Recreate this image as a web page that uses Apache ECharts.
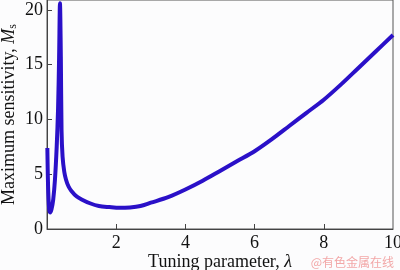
<!DOCTYPE html>
<html>
<head>
<meta charset="utf-8">
<script src="https://cdn.jsdelivr.net/npm/echarts@6/dist/echarts.min.js"></script>
<style>
html,body{margin:0;padding:0;background:#fcfcfd;}
#c{width:400px;height:270px;}
</style>
</head>
<body>
<div id="c"></div>
<script>
// Tuning parameter λ
var lambdaValues = [0.01, 0.03, 0.06, 0.09, 0.13, 0.18, 0.23, 0.28, 0.32, 0.35, 0.375, 0.40, 0.42, 0.45, 0.5, 0.55, 0.62, 0.7, 0.86, 1.0, 1.24, 1.5, 1.8, 2.1, 2.4, 2.7, 3.0, 3.5, 4.0, 4.5, 5.0, 5.5, 6.0, 6.5, 7.0, 7.5, 8.0, 8.5, 9.0, 9.5, 10.0];
// Maximum sensitivity Ms
var msValues = [7.4, 4.0, 1.9, 1.5, 1.8, 2.7, 4.5, 7.5, 11.0, 15.7, 20.6, 15.7, 9.0, 6.6, 5.2, 4.5, 3.9, 3.5, 2.96, 2.7, 2.35, 2.1, 2.0, 1.93, 1.97, 2.1, 2.4, 2.9, 3.6, 4.4, 5.3, 6.2, 7.1, 8.2, 9.4, 10.6, 11.8, 13.2, 14.7, 16.2, 17.7];
var xTickLabels = [2, 4, 6, 8, 10];
var yTickLabels = [0, 5, 10, 15, 20];

var seriesData = lambdaValues.map(function (x, i) { return [x, msValues[i]]; });

var chart = echarts.init(document.getElementById('c'));
var serif = '"Liberation Serif", "DejaVu Serif", serif';
chart.setOption({
  backgroundColor: '#fcfcfd',
  animation: false,
  grid: { left: 47, right: 7, top: 0, bottom: 41, containLabel: false, outerBoundsMode: 'none', show: true, borderColor: '#555', borderWidth: 1, backgroundColor: 'transparent' },
  xAxis: {
    type: 'value', min: 0, max: 10, interval: 2,
    axisLine: { show: true, lineStyle: { color: '#444', width: 1 } },
    axisTick: { show: true, inside: true, length: 5, lineStyle: { color: '#444' }, customValues: [2, 4, 6, 8] },
    axisLabel: { color: '#111', fontFamily: serif, fontSize: 18, margin: 5, customValues: xTickLabels },
    splitLine: { show: false },
    name: '{n|Tuning parameter, }{i|λ}',
    nameLocation: 'middle', nameGap: 24, nameMoveOverlap: false,
    nameTextStyle: { rich: { n: { fontFamily: serif, fontSize: 18, color: '#111' }, i: { fontFamily: serif, fontSize: 18, fontStyle: 'italic', color: '#111' } } }
  },
  yAxis: {
    type: 'value', min: 0, max: 20.9, interval: 5,
    axisLine: { show: true, lineStyle: { color: '#444', width: 1 } },
    axisTick: { show: true, inside: true, length: 5, lineStyle: { color: '#444' }, customValues: [5, 10, 15, 20] },
    axisLabel: { color: '#111', fontFamily: serif, fontSize: 18, margin: 4, customValues: yTickLabels },
    splitLine: { show: false },
    name: '{n|Maximum sensitivity, }{i|M}{s|s}',
    nameLocation: 'middle', nameGap: 28, nameRotate: 90, nameMoveOverlap: false,
    nameTextStyle: { rich: { n: { fontFamily: serif, fontSize: 18, color: '#111' }, i: { fontFamily: serif, fontSize: 18, fontStyle: 'italic', color: '#111' }, s: { fontFamily: serif, fontSize: 12, color: '#111', verticalAlign: 'bottom', padding: [7, 0, 0, 0] } } }
  },
  series: [{
    type: 'line', data: seriesData, smooth: 0.3, showSymbol: false,
    lineStyle: { color: '#2a10c8', width: 4 }
  }],
  graphic: [{
    type: 'text', right: 6, bottom: 2,
    style: { text: '@有色金属在线', fill: '#f2a7a7', font: '12px "Noto Sans CJK SC", sans-serif' }
  }]
});
</script>
</body>
</html>
